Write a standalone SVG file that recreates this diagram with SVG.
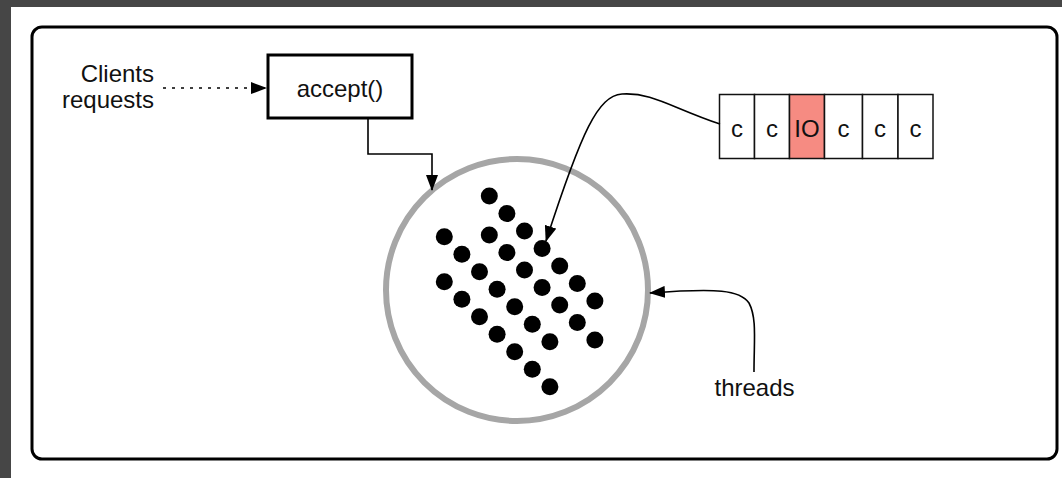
<svg xmlns="http://www.w3.org/2000/svg" width="1062" height="478" viewBox="0 0 1062 478">
<style>
text{font-family:"Liberation Sans",Arial,sans-serif;fill:#111}
.lbl{font-size:24px}
.cell{fill:#fff;stroke:#111;stroke-width:1.5}
.ctext{font-size:24px;text-anchor:middle}
.conn{fill:none;stroke:#000;stroke-width:1.6}
.dot{fill:#000}
</style>
<defs>
<marker id="ah" viewBox="0 0 16 12" refX="15" refY="6" markerWidth="16" markerHeight="12" markerUnits="userSpaceOnUse" orient="auto">
<path d="M0,0 L16,6 L0,12 Z" fill="#000"/>
</marker>
</defs>
<rect x="0" y="0" width="1062" height="478" fill="#464646"/>
<rect x="11" y="7" width="1051" height="471" fill="#fff"/>
<g id="frame">
<rect x="32" y="27" width="1025" height="432" rx="10" fill="#fff" stroke="#000" stroke-width="3"/>
</g>
<g id="clients">
<text class="lbl" x="154" y="82" text-anchor="end">Clients</text>
<text class="lbl" x="154" y="108" text-anchor="end">requests</text>
</g>
<g id="accept">
<rect x="268" y="55" width="144" height="63" fill="#fff" stroke="#000" stroke-width="3"/>
<text class="lbl" x="340" y="97" text-anchor="middle">accept()</text>
</g>
<g id="pool">
<circle cx="517" cy="290" r="131" fill="none" stroke="#a6a6a6" stroke-width="6"/>
<g class="dot">
<circle cx="489.3" cy="196" r="8.5"/><circle cx="506.9" cy="213.5" r="8.5"/><circle cx="524.5" cy="231" r="8.5"/><circle cx="542.1" cy="248.5" r="8.5"/><circle cx="559.7" cy="266" r="8.5"/><circle cx="577.3" cy="283.5" r="8.5"/><circle cx="594.9" cy="301" r="8.5"/>
<circle cx="489.3" cy="235" r="8.5"/><circle cx="506.9" cy="252.5" r="8.5"/><circle cx="524.5" cy="270" r="8.5"/><circle cx="542.1" cy="287.5" r="8.5"/><circle cx="559.7" cy="305" r="8.5"/><circle cx="577.3" cy="322.5" r="8.5"/><circle cx="594.9" cy="340" r="8.5"/>
<circle cx="444.3" cy="236.7" r="8.5"/><circle cx="461.9" cy="254.2" r="8.5"/><circle cx="479.5" cy="271.7" r="8.5"/><circle cx="497.1" cy="289.2" r="8.5"/><circle cx="514.7" cy="306.7" r="8.5"/><circle cx="532.3" cy="324.2" r="8.5"/><circle cx="549.9" cy="341.7" r="8.5"/>
<circle cx="444.3" cy="281.7" r="8.5"/><circle cx="461.9" cy="299.2" r="8.5"/><circle cx="479.5" cy="316.7" r="8.5"/><circle cx="497.1" cy="334.2" r="8.5"/><circle cx="514.7" cy="351.7" r="8.5"/><circle cx="532.3" cy="369.2" r="8.5"/><circle cx="549.9" cy="386.7" r="8.5"/>
</g>
</g>
<g id="queue">
<rect class="cell" x="719.5" y="94.5" width="35" height="64"/>
<rect class="cell" x="754.5" y="94.5" width="35" height="64"/>
<rect class="cell" x="789.5" y="94.5" width="35" height="64" style="fill:#f68b82"/>
<rect class="cell" x="824.5" y="94.5" width="38" height="64"/>
<rect class="cell" x="862.5" y="94.5" width="35.5" height="64"/>
<rect class="cell" x="898" y="94.5" width="35" height="64"/>
<text class="ctext" x="737" y="137">c</text>
<text class="ctext" x="772" y="137">c</text>
<text class="ctext" x="807" y="137">IO</text>
<text class="ctext" x="843.5" y="137">c</text>
<text class="ctext" x="880" y="137">c</text>
<text class="ctext" x="915.5" y="137">c</text>
</g>
<g id="threads">
<text class="lbl" x="754.5" y="396" text-anchor="middle">threads</text>
</g>
<g id="connectors">
<path class="conn" d="M163,88 L266,88" stroke-dasharray="3,6" marker-end="url(#ah)"/>
<path class="conn" d="M368,118 L368,154 L432,154 L432,190" marker-end="url(#ah)"/>
<path class="conn" d="M720,124 C672,108 652,92 622,94 C598,96 582,130 546,241" marker-end="url(#ah)"/>
<path class="conn" d="M754,372 C754,340 757,318 749,303 C740,290 718,288 650,293" marker-end="url(#ah)"/>
</g>
</svg>
